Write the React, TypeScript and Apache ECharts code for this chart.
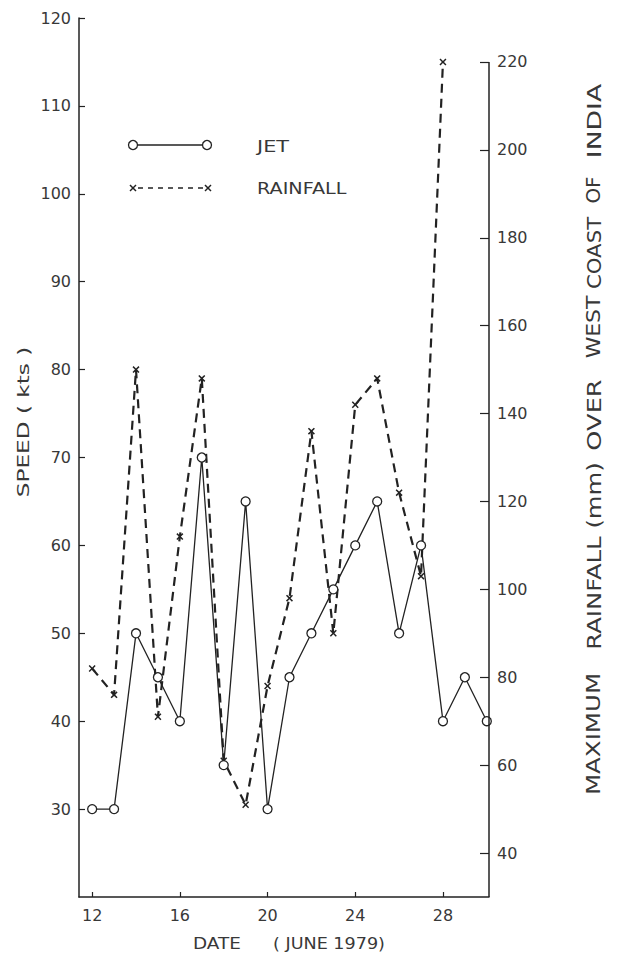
import React, { useEffect, useRef } from "react";
import * as echarts from "echarts";

const jetDates = [12, 13, 14, 15, 16, 17, 18, 19, 20, 21, 22, 23, 24, 25, 26, 27, 28, 29, 30];
const jetSpeed = [30, 30, 50, 45, 40, 70, 35, 65, 30, 45, 50, 55, 60, 65, 50, 60, 40, 45, 40];
const rainDates = [12, 13, 14, 15, 16, 17, 18, 19, 20, 21, 22, 23, 24, 25, 26, 27, 28];
const rainfall = [82, 76, 150, 71, 112, 148, 61, 51, 78, 98, 136, 90, 142, 148, 122, 103, 220];
const dateTicks = [12, 16, 20, 24, 28];
const speedTicks = [30, 40, 50, 60, 70, 80, 90, 100, 110, 120];
const rainTicks = [40, 60, 80, 100, 120, 140, 160, 180, 200, 220];

const INK = "#222";
const TXT = "#383838";
const FONT = "'DejaVu Sans', 'Liberation Sans', sans-serif";
const XSYM = "path://M0,1.5L1.5,0L5,3.5L8.5,0L10,1.5L6.5,5L10,8.5L8.5,10L5,6.5L1.5,10L0,8.5L3.5,5Z";

export default function App() {
  const ref = useRef<HTMLDivElement>(null);
  useEffect(() => {
    if (!ref.current) return;
    const chart = echarts.init(ref.current, undefined, { renderer: "svg" });
    const rightWords = [
      { t: "MAXIMUM", y: 734, s: 1.29 },
      { t: "RAINFALL (mm)", y: 556, s: 1.28 },
      { t: "OVER", y: 415, s: 1.35 },
      { t: "WEST", y: 327, s: 1.15 },
      { t: "COAST", y: 253, s: 1.12 },
      { t: "OF", y: 190, s: 1.05 },
      { t: "INDIA", y: 121, s: 1.4 },
    ];
    const txt = (text: string, x: number, y: number, size: number, extra: any = {}) => ({
      type: "text",
      x,
      y,
      silent: true,
      rotation: extra.rotation || 0,
      scaleX: extra.scaleX || 1,
      style: {
        text,
        fontSize: size,
        fontFamily: FONT,
        fill: TXT,
        textAlign: extra.align || "left",
        textVerticalAlign: "middle",
      },
    });
    chart.setOption({
      animation: false,
      backgroundColor: "#fff",
      grid: { left: 79, right: 128, top: 18, bottom: 56, containLabel: false },
      xAxis: {
        type: "value",
        min: 11.4,
        max: 30.1,
        axisLine: { show: true, lineStyle: { color: INK, width: 1.5 } },
        axisTick: { show: true, inside: true, length: 5, customValues: dateTicks, lineStyle: { color: INK, width: 1.2 } },
        axisLabel: { customValues: dateTicks, fontSize: 16, fontFamily: FONT, color: TXT, margin: 10 },
        splitLine: { show: false },
      },
      yAxis: [
        {
          type: "value",
          min: 20,
          max: 120,
          position: "left",
          axisLine: { show: true, lineStyle: { color: INK, width: 1.5 } },
          axisTick: { show: true, inside: true, length: 6, customValues: speedTicks, lineStyle: { color: INK, width: 1.2 } },
          axisLabel: { customValues: speedTicks, fontSize: 16, fontFamily: FONT, color: TXT, margin: 8 },
          splitLine: { show: false },
        },
        {
          type: "value",
          min: 30,
          max: 230,
          position: "right",
          axisLine: { show: false },
          axisTick: { show: true, inside: true, length: 9, customValues: rainTicks, lineStyle: { color: INK, width: 1.2 } },
          axisLabel: { customValues: rainTicks, fontSize: 16, fontFamily: FONT, color: TXT, margin: 8 },
          splitLine: { show: false },
        },
      ],
      series: [
        {
          name: "RAINFALL",
          type: "line",
          yAxisIndex: 1,
          clip: false,
          data: rainDates.map((d, i) => [d, rainfall[i]]),
          symbol: XSYM,
          symbolSize: 7,
          itemStyle: { color: INK },
          lineStyle: { color: INK, width: 2.2, type: [9, 6] },
          z: 2,
          markLine: {
            silent: true,
            symbol: ["none", "none"],
            label: { show: false },
            lineStyle: { color: INK, width: 1.5, type: "solid" },
            emphasis: { disabled: true },
            data: [[{ coord: [30.1, 30] }, { coord: [30.1, 220] }]],
          },
        },
        {
          name: "JET",
          type: "line",
          yAxisIndex: 0,
          clip: false,
          data: jetDates.map((d, i) => [d, jetSpeed[i]]),
          symbol: "circle",
          symbolSize: 9,
          itemStyle: { color: "#fff", borderColor: INK, borderWidth: 1.3 },
          lineStyle: { color: INK, width: 1.3 },
          z: 3,
        },
      ],
      graphic: [
        // legend
        { type: "line", silent: true, shape: { x1: 133, y1: 145, x2: 207, y2: 145 }, style: { stroke: INK, lineWidth: 1.3 } },
        { type: "circle", silent: true, shape: { cx: 133, cy: 145, r: 4.5 }, style: { fill: "#fff", stroke: INK, lineWidth: 1.3 } },
        { type: "circle", silent: true, shape: { cx: 207, cy: 145, r: 4.5 }, style: { fill: "#fff", stroke: INK, lineWidth: 1.3 } },
        txt("JET", 257, 146, 16, { scaleX: 1.3 }),
        { type: "line", silent: true, shape: { x1: 138, y1: 188, x2: 203, y2: 188 }, style: { stroke: INK, lineWidth: 1.3, lineDash: [5, 5] } },
        { type: "line", silent: true, shape: { x1: 130, y1: 185, x2: 136, y2: 191 }, style: { stroke: INK, lineWidth: 1.5 } },
        { type: "line", silent: true, shape: { x1: 130, y1: 191, x2: 136, y2: 185 }, style: { stroke: INK, lineWidth: 1.5 } },
        { type: "line", silent: true, shape: { x1: 205, y1: 185, x2: 211, y2: 191 }, style: { stroke: INK, lineWidth: 1.5 } },
        { type: "line", silent: true, shape: { x1: 205, y1: 191, x2: 211, y2: 185 }, style: { stroke: INK, lineWidth: 1.5 } },
        txt("RAINFALL", 257, 189, 16, { scaleX: 1.2 }),
        // axis titles
        txt("DATE", 193, 943, 16, { scaleX: 1.15 }),
        txt("( JUNE 1979)", 273, 943, 16, { scaleX: 1.1 }),
        txt("SPEED ( kts )", 24, 422, 16, { rotation: Math.PI / 2, align: "center", scaleX: 1.45 }),
        ...rightWords.map((w) => txt(w.t, 594, w.y, 19, { rotation: Math.PI / 2, align: "center", scaleX: w.s })),
      ],
    });
    return () => chart.dispose();
  }, []);
  return <div ref={ref} style={{ position: "fixed", left: 0, top: 0, width: 617, height: 953 }} />;
}
